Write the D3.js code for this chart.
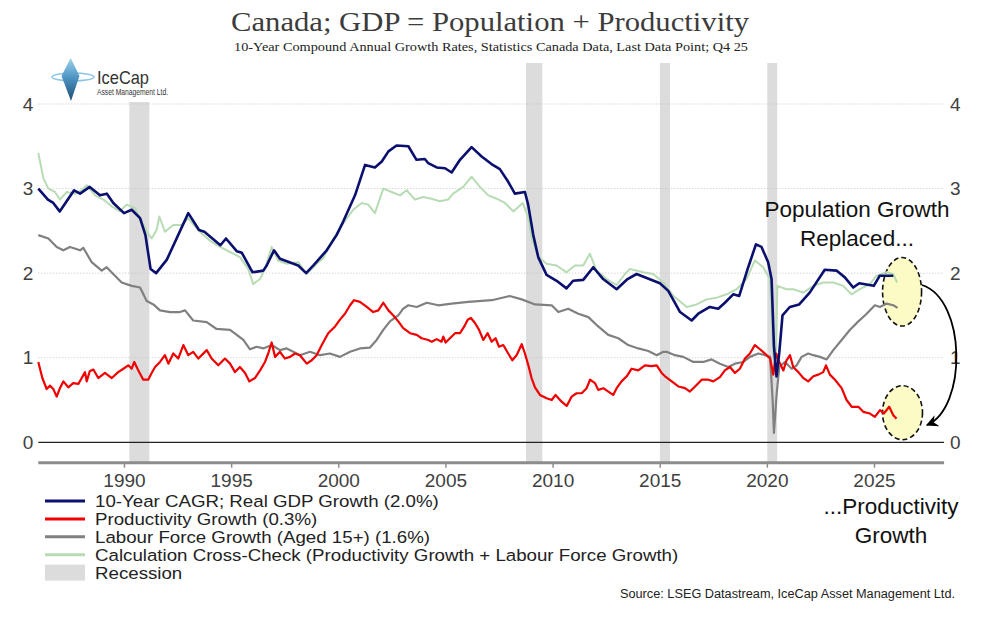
<!DOCTYPE html>
<html>
<head>
<meta charset="utf-8">
<title>Canada; GDP = Population + Productivity</title>
<script src="https://d3js.org/d3.v7.min.js"></script>
<style>
  body { margin: 0; background: #fff; }
  svg text { font-family: "Liberation Sans", Arial, sans-serif; }
</style>
</head>
<body>
<svg id="chart" width="988" height="620"></svg>
<script>
// Series: [year, 10-yr CAGR %]
const gdpGrowth = [
  [1986.0,3.0],[1986.45,2.87],[1986.7,2.83],[1987.0,2.73],[1987.67,2.98],[1987.95,2.94],[1988.4,3.02],[1988.88,2.92],
  [1989.2,2.94],[1989.5,2.83],[1990.0,2.71],[1990.36,2.75],[1990.75,2.65],[1991.0,2.45],[1991.24,2.05],[1991.5,2.0],
  [1992.0,2.16],[1993.0,2.71],[1993.5,2.51],[1993.75,2.49],[1994.5,2.33],[1994.76,2.41],[1995.26,2.26],[1995.5,2.24],
  [1996.0,2.01],[1996.5,2.03],[1996.66,2.09],[1997.0,2.27],[1997.28,2.17],[1998.13,2.09],[1998.5,2.0],[1998.83,2.09],
  [1999.46,2.27],[1999.92,2.45],[2000.23,2.61],[2000.78,2.92],[2001.25,3.28],[2001.71,3.25],[2002.03,3.32],[2002.34,3.44],
  [2002.72,3.51],[2003.27,3.5],[2003.65,3.34],[2004.04,3.35],[2004.2,3.3],[2004.59,3.25],[2004.98,3.24],[2005.29,3.19],
  [2005.68,3.34],[2006.22,3.49],[2006.69,3.38],[2007.15,3.29],[2007.54,3.23],[2007.93,3.08],[2008.24,2.94],[2008.71,2.96],
  [2008.86,2.81],[2009.1,2.45],[2009.33,2.19],[2009.72,1.98],[2010.19,1.91],[2010.65,1.82],[2010.96,1.91],[2011.43,1.92],
  [2011.9,2.07],[2012.36,1.93],[2012.99,1.81],[2013.5,1.93],[2013.92,1.99],[2015.01,1.88],[2015.4,1.79],[2015.95,1.54],
  [2016.49,1.44],[2016.8,1.52],[2017.34,1.6],[2017.73,1.58],[2018.04,1.65],[2018.43,1.75],[2018.71,1.73],[2019.13,2.07],
  [2019.49,2.34],[2019.75,2.31],[2020.06,2.13],[2020.22,1.93],[2020.33,1.14],[2020.45,0.78],[2020.58,1.06],[2020.73,1.5],
  [2021.07,1.6],[2021.51,1.63],[2022.0,1.77],[2022.7,2.04],[2023.25,2.03],[2023.64,1.95],[2024.03,1.83],[2024.31,1.88],
  [2024.99,1.85],[2025.27,1.97],[2025.9,1.97]
];
const productivityGrowth = [
  [1986.0,0.95],[1986.19,0.76],[1986.39,0.63],[1986.55,0.67],[1986.7,0.63],[1986.86,0.54],[1987.01,0.64],[1987.17,0.72],
  [1987.4,0.65],[1987.63,0.70],[1987.87,0.69],[1988.18,0.83],[1988.26,0.72],[1988.4,0.84],[1988.57,0.86],[1988.8,0.76],
  [1989.11,0.82],[1989.43,0.76],[1989.73,0.83],[1989.97,0.87],[1990.2,0.91],[1990.36,0.87],[1990.48,0.95],[1990.67,0.85],
  [1990.9,0.74],[1991.13,0.74],[1991.29,0.82],[1991.45,0.89],[1991.68,0.95],[1991.91,1.03],[1992.07,0.93],[1992.3,1.05],
  [1992.53,0.99],[1992.77,1.15],[1993.0,1.03],[1993.23,1.07],[1993.47,0.99],[1993.86,1.09],[1994.09,0.99],[1994.4,0.91],
  [1994.71,0.99],[1994.95,0.93],[1995.18,0.83],[1995.41,0.89],[1995.65,0.82],[1995.85,0.72],[1996.11,0.76],[1996.35,0.85],
  [1996.58,0.95],[1996.73,1.05],[1996.89,1.18],[1997.05,1.01],[1997.28,1.07],[1997.51,0.99],[1997.75,1.01],[1997.98,1.05],
  [1998.21,1.03],[1998.53,0.93],[1998.76,0.97],[1998.99,1.03],[1999.23,1.15],[1999.53,1.29],[1999.85,1.37],[2000.08,1.45],
  [2000.31,1.52],[2000.55,1.62],[2000.73,1.68],[2001.01,1.66],[2001.33,1.60],[2001.63,1.54],[2001.87,1.56],[2002.1,1.65],
  [2002.34,1.56],[2002.57,1.50],[2002.8,1.43],[2003.03,1.35],[2003.35,1.29],[2003.66,1.27],[2003.89,1.23],[2004.2,1.21],
  [2004.36,1.19],[2004.59,1.22],[2004.82,1.19],[2004.9,1.25],[2005.01,1.18],[2005.21,1.23],[2005.45,1.29],[2005.68,1.29],
  [2005.88,1.37],[2006.04,1.45],[2006.19,1.47],[2006.38,1.41],[2006.57,1.33],[2006.77,1.21],[2006.97,1.29],[2007.16,1.19],
  [2007.34,1.23],[2007.5,1.13],[2007.7,1.15],[2007.93,1.05],[2008.12,0.97],[2008.32,1.03],[2008.56,1.16],[2008.71,1.05],
  [2008.87,0.91],[2009.02,0.76],[2009.18,0.65],[2009.41,0.56],[2009.72,0.52],[2009.96,0.50],[2010.14,0.56],[2010.42,0.48],
  [2010.66,0.43],[2010.89,0.54],[2011.12,0.58],[2011.36,0.58],[2011.59,0.64],[2011.75,0.74],[2011.98,0.70],[2012.13,0.62],
  [2012.37,0.64],[2012.6,0.60],[2012.83,0.56],[2012.99,0.64],[2013.22,0.72],[2013.46,0.78],[2013.69,0.87],[2014.0,0.85],
  [2014.31,0.91],[2014.62,0.90],[2014.86,0.91],[2015.09,0.82],[2015.25,0.78],[2015.56,0.72],[2015.87,0.66],[2016.18,0.64],
  [2016.41,0.60],[2016.65,0.66],[2016.96,0.74],[2017.27,0.74],[2017.5,0.72],[2017.81,0.77],[2018.04,0.85],[2018.28,0.89],
  [2018.51,0.82],[2018.74,0.87],[2018.98,0.99],[2019.21,1.05],[2019.44,1.15],[2019.68,1.10],[2019.91,1.05],[2020.15,0.99],
  [2020.3,0.80],[2020.43,1.05],[2020.58,0.95],[2020.77,0.85],[2020.92,0.97],[2021.08,1.03],[2021.23,0.89],[2021.47,0.83],
  [2021.7,0.76],[2021.93,0.72],[2022.17,0.78],[2022.4,0.80],[2022.63,0.83],[2022.76,0.91],[2022.94,0.80],[2023.18,0.74],
  [2023.49,0.64],[2023.72,0.50],[2023.96,0.42],[2024.27,0.42],[2024.5,0.36],[2024.81,0.34],[2025.04,0.30],[2025.28,0.38],
  [2025.46,0.34],[2025.71,0.42],[2025.9,0.32],[2026.05,0.28]
];
const labourForceGrowth = [
  [1986.0,2.45],[1986.47,2.41],[1986.86,2.31],[1987.17,2.27],[1987.48,2.31],[1987.95,2.27],[1988.1,2.30],[1988.49,2.13],
  [1988.96,2.03],[1989.19,2.07],[1989.58,1.97],[1989.89,1.89],[1990.36,1.85],[1990.75,1.83],[1991.06,1.67],[1991.37,1.63],
  [1991.68,1.56],[1992.15,1.54],[1992.61,1.54],[1992.85,1.56],[1993.23,1.44],[1993.86,1.42],[1994.32,1.34],[1994.95,1.33],
  [1995.26,1.27],[1995.57,1.21],[1995.88,1.10],[1996.19,1.13],[1996.5,1.11],[1996.89,1.15],[1997.28,1.09],[1997.59,1.11],
  [1997.9,1.07],[1998.21,1.03],[1998.68,1.07],[1999.15,1.03],[1999.61,1.05],[2000.08,1.01],[2000.55,1.07],[2001.01,1.11],
  [2001.48,1.12],[2001.79,1.21],[2002.1,1.33],[2002.41,1.43],[2002.8,1.50],[2003.03,1.58],[2003.27,1.62],[2003.66,1.60],
  [2004.13,1.65],[2004.67,1.62],[2005.29,1.64],[2006.07,1.66],[2007.16,1.68],[2008.0,1.73],[2008.56,1.69],[2009.18,1.63],
  [2009.96,1.62],[2010.27,1.54],[2010.73,1.58],[2011.2,1.52],[2011.67,1.48],[2012.13,1.37],[2012.6,1.27],[2013.07,1.23],
  [2013.53,1.15],[2014.0,1.11],[2014.47,1.08],[2014.86,1.03],[2015.17,1.07],[2015.32,1.07],[2015.71,1.03],[2016.1,1.01],
  [2016.57,0.95],[2017.03,0.95],[2017.42,0.98],[2017.81,0.93],[2018.2,0.89],[2018.51,0.93],[2018.9,0.95],[2019.21,1.01],
  [2019.6,1.05],[2019.91,1.03],[2020.15,1.01],[2020.27,0.50],[2020.33,0.11],[2020.46,0.58],[2020.58,0.89],[2020.84,0.95],
  [2021.16,0.87],[2021.39,0.91],[2021.62,1.01],[2021.93,1.05],[2022.17,1.03],[2022.48,1.01],[2022.79,0.98],[2023.1,1.09],
  [2023.49,1.21],[2023.88,1.33],[2024.27,1.43],[2024.66,1.52],[2025.04,1.62],[2025.28,1.60],[2025.59,1.64],[2025.9,1.62],
  [2026.1,1.59]
];
const crossCheck = [
  [1986.0,3.42],[1986.24,3.12],[1986.47,3.0],[1986.78,2.96],[1987.01,2.87],[1987.33,2.96],[1987.71,2.94],[1988.03,2.98],
  [1988.26,3.04],[1988.65,2.92],[1989.04,2.87],[1989.42,2.79],[1989.81,2.73],[1990.12,2.81],[1990.51,2.77],[1990.75,2.65],
  [1991.06,2.49],[1991.29,2.41],[1991.52,2.51],[1991.65,2.67],[1991.91,2.49],[1992.3,2.57],[1992.69,2.57],[1993.0,2.65],
  [1993.39,2.53],[1993.7,2.45],[1994.09,2.37],[1994.48,2.31],[1994.95,2.25],[1995.41,2.19],[1995.8,2.05],[1996.03,1.87],
  [1996.35,1.93],[1996.58,2.05],[1996.89,2.31],[1997.2,2.15],[1997.59,2.11],[1998.13,2.13],[1998.52,1.99],[1998.99,2.11],
  [1999.3,2.18],[1999.77,2.41],[2000.23,2.59],[2000.7,2.75],[2001.09,2.83],[2001.4,2.81],[2001.71,2.71],[2002.1,3.0],
  [2002.49,2.96],[2002.88,2.92],[2003.19,2.98],[2003.58,2.87],[2003.97,2.90],[2004.35,2.88],[2004.74,2.85],[2005.13,2.87],
  [2005.36,2.94],[2005.83,3.02],[2006.22,3.14],[2006.61,3.02],[2007.0,2.92],[2007.39,2.88],[2007.78,2.83],[2008.17,2.73],
  [2008.61,2.83],[2008.87,2.65],[2009.03,2.41],[2009.34,2.19],[2009.72,2.11],[2010.19,2.09],[2010.65,2.01],[2011.04,2.09],
  [2011.43,2.09],[2011.74,2.23],[2012.05,2.03],[2012.52,1.93],[2012.99,1.86],[2013.38,1.99],[2013.61,2.05],[2014.23,2.01],
  [2014.7,1.99],[2015.17,1.89],[2015.64,1.73],[2016.26,1.60],[2016.72,1.63],[2017.19,1.69],[2017.66,1.71],[2018.12,1.75],
  [2018.59,1.81],[2019.05,1.93],[2019.44,2.15],[2019.83,2.07],[2020.14,1.93],[2020.3,1.06],[2020.41,0.82],[2020.49,1.85],
  [2020.92,1.81],[2021.24,1.81],[2021.7,1.77],[2022.17,1.85],[2022.63,1.89],[2023.1,1.89],[2023.56,1.85],[2023.95,1.75],
  [2024.34,1.81],[2024.81,1.87],[2025.12,1.97],[2025.58,2.01],[2025.89,1.99],[2026.08,1.89]
];

// recession periods [start, end]
const recessions = [[1990.25, 1991.18], [2008.76, 2009.52], [2015.01, 2015.48], [2020.02, 2020.48]];

const xTicks = [1990, 1995, 2000, 2005, 2010, 2015, 2020, 2025];
const yTicks = [0, 1, 2, 3, 4];

const legendLabels = [
  "10-Year CAGR; Real GDP Growth (2.0%)",
  "Productivity Growth (0.3%)",
  "Labour Force Growth (Aged 15+) (1.6%)",
  "Calculation Cross-Check (Productivity Growth + Labour Force Growth)",
  "Recession"
];

const svg = d3.select("#chart");

// scales
const x = d3.scaleLinear().domain([1990, 2025]).range([124, 874]);
const y = d3.scaleLinear().domain([0, 4]).range([442.3, 104]);
const xMin = 1986, xMax = 2028.27;

// defs: logo gradient + arrow head
const defs = svg.append("defs");
const grad = defs.append("linearGradient").attr("id", "ice").attr("x1", 0).attr("y1", 0).attr("x2", 0).attr("y2", 1);
grad.append("stop").attr("offset", "0%").attr("stop-color", "#9fd3ef");
grad.append("stop").attr("offset", "45%").attr("stop-color", "#4f95c4");
grad.append("stop").attr("offset", "100%").attr("stop-color", "#1f4f78");
defs.append("marker")
  .attr("id", "arrow").attr("viewBox", "0 0 10 10").attr("refX", 9).attr("refY", 5)
  .attr("markerWidth", 12).attr("markerHeight", 12).attr("markerUnits", "userSpaceOnUse")
  .attr("orient", "auto")
  .append("path").attr("d", "M0,0 L10,5 L0,10 L3,5 z").attr("fill", "#000");

// recession bars
svg.append("g").selectAll("rect")
  .data(recessions)
  .enter().append("rect")
  .attr("x", d => x(d[0]))
  .attr("width", d => x(d[1]) - x(d[0]))
  .attr("y", 63)
  .attr("height", 462.7 - 63)
  .attr("fill", "#dcdcdc");

// grid lines (dotted)
svg.append("g").selectAll("line")
  .data(yTicks.filter(d => d > 0))
  .enter().append("line")
  .attr("x1", x(xMin)).attr("x2", x(xMax))
  .attr("y1", d => y(d)).attr("y2", d => y(d))
  .attr("stroke", "#c4c4c4").attr("stroke-width", 1).attr("stroke-dasharray", "1,2");

// zero line
svg.append("line")
  .attr("x1", x(xMin)).attr("x2", x(xMax))
  .attr("y1", y(0)).attr("y2", y(0))
  .attr("stroke", "#222").attr("stroke-width", 1.2);

// y labels both sides
const yLeft = svg.append("g").attr("transform", `translate(${x(xMin) - 5},0)`)
  .call(d3.axisLeft(y).tickValues(yTicks).tickFormat(d3.format("d")).tickSize(0).tickPadding(0));
const yRight = svg.append("g").attr("transform", `translate(${x(xMax) + 6},0)`)
  .call(d3.axisRight(y).tickValues(yTicks).tickFormat(d3.format("d")).tickSize(0).tickPadding(0));
[yLeft, yRight].forEach(g => {
  g.select(".domain").remove();
  g.selectAll("text").attr("font-size", 19).attr("fill", "#404040")
    .style("font-family", "'Liberation Sans', Arial, sans-serif");
});

// x axis
const xAxis = svg.append("g").attr("transform", "translate(0,462.7)")
  .call(d3.axisBottom(x).tickValues(xTicks).tickFormat(d3.format("d")).tickSize(5).tickPadding(6));
xAxis.select(".domain").remove();
xAxis.append("line")
  .attr("x1", x(xMin)).attr("x2", x(xMax)).attr("y1", 0).attr("y2", 0)
  .attr("stroke", "#8c8c8c").attr("stroke-width", 3);
xAxis.selectAll(".tick line").attr("stroke", "#8c8c8c").attr("stroke-width", 1.5);
xAxis.selectAll("text").attr("font-size", 19).attr("fill", "#404040")
  .style("font-family", "'Liberation Sans', Arial, sans-serif");

// annotation ellipses (behind the lines)
const ellipses = [
  { year: 2026.31, value: 1.78, rx: 19.5, ry: 34.3 },
  { year: 2026.33, value: 0.35, rx: 20, ry: 27 }
];
svg.append("g").selectAll("ellipse")
  .data(ellipses)
  .enter().append("ellipse")
  .attr("cx", d => x(d.year)).attr("cy", d => y(d.value))
  .attr("rx", d => d.rx).attr("ry", d => d.ry)
  .attr("fill", "#fcfbc6")
  .attr("stroke", "#111").attr("stroke-width", 1.6).attr("stroke-dasharray", "5,3");

// lines
const line = d3.line().x(d => x(d[0])).y(d => y(d[1]));
const series = [
  { data: crossCheck, color: "#b7dcb4", width: 2 },
  { data: labourForceGrowth, color: "#808080", width: 2.2 },
  { data: productivityGrowth, color: "#f00000", width: 2.2 },
  { data: gdpGrowth, color: "#0b0f6e", width: 2.6 }
];
svg.append("g").selectAll("path")
  .data(series)
  .enter().append("path")
  .attr("d", d => line(d.data))
  .attr("fill", "none")
  .attr("stroke", d => d.color)
  .attr("stroke-width", d => d.width)
  .attr("stroke-linejoin", "round");

// curved arrow
svg.append("path")
  .attr("d", "M922,285 C967,300 967,408 927,425")
  .attr("fill", "none").attr("stroke", "#000").attr("stroke-width", 1.8)
  .attr("marker-end", "url(#arrow)");

// annotation texts
const annot = svg.append("g").attr("font-size", 22.5).attr("fill", "#111").attr("text-anchor", "middle");
annot.append("text").attr("x", 857).attr("y", 217).text("Population Growth");
annot.append("text").attr("x", 857).attr("y", 246).text("Replaced...");
annot.append("text").attr("x", 891).attr("y", 514).text("...Productivity");
annot.append("text").attr("x", 891).attr("y", 543).text("Growth");

// title
svg.append("text")
  .attr("x", 490).attr("y", 31).attr("text-anchor", "middle")
  .attr("font-size", 27).attr("fill", "#3c3c3c")
  .attr("textLength", 518).attr("lengthAdjust", "spacingAndGlyphs")
  .style("font-family", "'Liberation Serif', 'DejaVu Serif', serif")
  .text("Canada; GDP = Population + Productivity");
svg.append("text")
  .attr("x", 491).attr("y", 51).attr("text-anchor", "middle")
  .attr("font-size", 11.5).attr("fill", "#222")
  .attr("textLength", 514).attr("lengthAdjust", "spacingAndGlyphs")
  .style("font-family", "'Liberation Serif', 'DejaVu Serif', serif")
  .text("10-Year Compound Annual Growth Rates, Statistics Canada Data, Last Data Point; Q4 25");

// logo
const logo = svg.append("g");
logo.append("rect").attr("x", 45).attr("y", 56).attr("width", 140).attr("height", 46).attr("fill", "#fff");
logo.append("ellipse").attr("cx", 73).attr("cy", 77).attr("rx", 21).attr("ry", 4)
  .attr("fill", "none").attr("stroke", "#8cc6e6").attr("stroke-width", 1.5);
logo.append("path").attr("d", "M70.7,58 L79.5,76 L71,101 L61.5,76 Z").attr("fill", "url(#ice)");
logo.append("text").attr("x", 97).attr("y", 84).attr("font-size", 19).attr("fill", "#333")
  .attr("textLength", 52).attr("lengthAdjust", "spacingAndGlyphs")
  .text("IceCap");
logo.append("text").attr("x", 97).attr("y", 95).attr("font-size", 8.6).attr("fill", "#333")
  .attr("textLength", 71).attr("lengthAdjust", "spacingAndGlyphs")
  .text("Asset Management Ltd.");

// legend (text slightly stretched sideways, as in the source picture)
const legendScale = 1.1;
const legend = svg.append("g").attr("transform", "translate(45,501)");
const legendRows = legend.selectAll("g")
  .data(legendLabels)
  .enter().append("g")
  .attr("transform", (d, i) => `translate(0,${i * 17.9})`);
legendRows.each(function(d, i) {
  const g = d3.select(this);
  if (i < 4) {
    const s = series[3 - i];
    g.append("line").attr("x1", 0).attr("x2", 40).attr("y1", 0).attr("y2", 0)
      .attr("stroke", s.color).attr("stroke-width", 3);
  } else {
    g.append("rect").attr("x", 0).attr("y", -8).attr("width", 40).attr("height", 16).attr("fill", "#dcdcdc");
  }
  g.append("text")
    .attr("transform", `translate(50,6) scale(${legendScale},1)`)
    .attr("font-size", 17).attr("fill", "#222").text(d);
});

// source
svg.append("text")
  .attr("x", 955).attr("y", 598).attr("text-anchor", "end")
  .attr("font-size", 12).attr("fill", "#222")
  .attr("textLength", 335).attr("lengthAdjust", "spacingAndGlyphs")
  .text("Source: LSEG Datastream, IceCap Asset Management Ltd.");
</script>
</body>
</html>
